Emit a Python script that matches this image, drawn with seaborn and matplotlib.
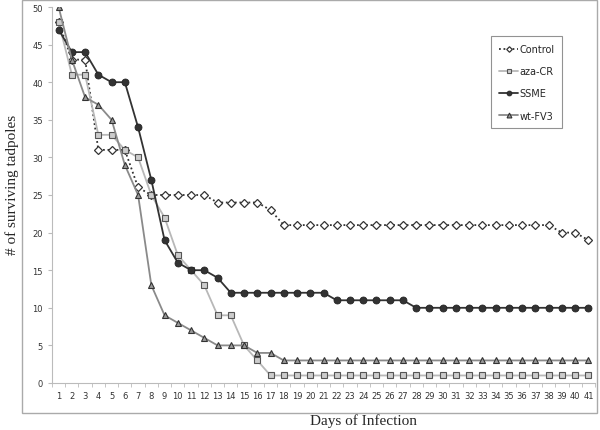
import numpy as np
import pandas as pd
import seaborn as sns
import matplotlib.pyplot as plt
from matplotlib.patches import Rectangle

# ---- data ----
days = list(range(1, 42))

control = [48, 43, 43, 31, 31, 31, 26, 25, 25, 25, 25, 25, 24, 24, 24, 24, 23,
           21, 21, 21, 21, 21, 21, 21, 21, 21, 21, 21, 21, 21, 21, 21, 21, 21,
           21, 21, 21, 21, 20, 20, 19]
aza_cr = [48, 41, 41, 33, 33, 31, 30, 25, 22, 17, 15, 13, 9, 9, 5, 3, 1,
          1, 1, 1, 1, 1, 1, 1, 1, 1, 1, 1, 1, 1, 1, 1, 1, 1,
          1, 1, 1, 1, 1, 1, 1]
ssme = [47, 44, 44, 41, 40, 40, 34, 27, 19, 16, 15, 15, 14, 12, 12, 12, 12,
        12, 12, 12, 12, 11, 11, 11, 11, 11, 11, 10, 10, 10, 10, 10, 10, 10,
        10, 10, 10, 10, 10, 10, 10]
wt_fv3 = [50, 43, 38, 37, 35, 29, 25, 13, 9, 8, 7, 6, 5, 5, 5, 4, 4,
          3, 3, 3, 3, 3, 3, 3, 3, 3, 3, 3, 3, 3, 3, 3, 3, 3,
          3, 3, 3, 3, 3, 3, 3]

series_names = ['Control', 'aza-CR', 'SSME', 'wt-FV3']

df = pd.DataFrame({
    'day': days * 4,
    'alive': control + aza_cr + ssme + wt_fv3,
    'group': np.repeat(series_names, len(days)),
})

# line / marker styles per group (Excel-like greyscale)
styles = {
    'Control': dict(color='#333333', linestyle=(0, (1, 1.5)), marker='D', markersize=4,
                    markerfacecolor='white', markeredgecolor='#333333', markeredgewidth=0.9),
    'aza-CR': dict(color='#b8b8b8', linestyle='-', marker='s', markersize=5,
                   markerfacecolor='#cccccc', markeredgecolor='#555555', markeredgewidth=0.8),
    'SSME': dict(color='#333333', linestyle='-', marker='o', markersize=5,
                 markerfacecolor='#333333', markeredgecolor='#222222', markeredgewidth=0.6),
    'wt-FV3': dict(color='#8a8a8a', linestyle='-', marker='^', markersize=5,
                   markerfacecolor='#999999', markeredgecolor='#333333', markeredgewidth=0.8),
}

sns.set_style('white')

fig = plt.figure(figsize=(6, 4.31), dpi=100)
ax = fig.add_axes([52 / 600, 1 - 384 / 431, 543 / 600, 376 / 431])

for name in series_names:
    sub = df[df['group'] == name]
    sns.lineplot(data=sub, x='day', y='alive', ax=ax, label=name,
                 linewidth=1.3, **styles[name])

ax.set_xlim(0.5, 41.5)
ax.set_ylim(0, 50)
ax.set_yticks(range(0, 51, 5))
ax.set_xticks(days)
ax.set_xticks(np.arange(0.5, 42, 1), minor=True)
ax.tick_params(axis='x', which='major', length=0, labelsize=6, colors='#333333', pad=6)
ax.tick_params(axis='x', which='minor', length=3, direction='out', color='#bbbbbb', bottom=True)
ax.tick_params(axis='y', which='major', length=3, direction='out', color='#bbbbbb',
               labelsize=6, colors='#333333', left=True)
ax.set_xlabel('')
ax.set_ylabel('')

for side in ['top', 'right']:
    ax.spines[side].set_visible(False)
for side in ['left', 'bottom']:
    ax.spines[side].set_color('#bbbbbb')
    ax.spines[side].set_linewidth(0.8)

leg = ax.legend(loc='upper left', bbox_to_anchor=(0.80, 0.935), frameon=True,
                fancybox=False, fontsize=7, handlelength=2.0, handletextpad=0.1,
                labelspacing=1.25, borderpad=0.8, markerscale=0.7)
leg.get_frame().set_edgecolor('#777777')
leg.get_frame().set_linewidth(0.8)

# outer chart-area border
fig.patches.append(Rectangle((22 / 600, 1 - 414 / 431), 575 / 600, 413 / 431,
                             transform=fig.transFigure, fill=False,
                             edgecolor='#aaaaaa', linewidth=1.0))

fig.text(12 / 600, 1 - 185 / 431, '# of surviving tadpoles', rotation=90,
         ha='center', va='center', family='Liberation Serif', fontsize=11)
fig.text(364 / 600, 1 - 421 / 431, 'Days of Infection', ha='center', va='center',
         family='Liberation Serif', fontsize=11)

fig.savefig('out.png', dpi=100)
